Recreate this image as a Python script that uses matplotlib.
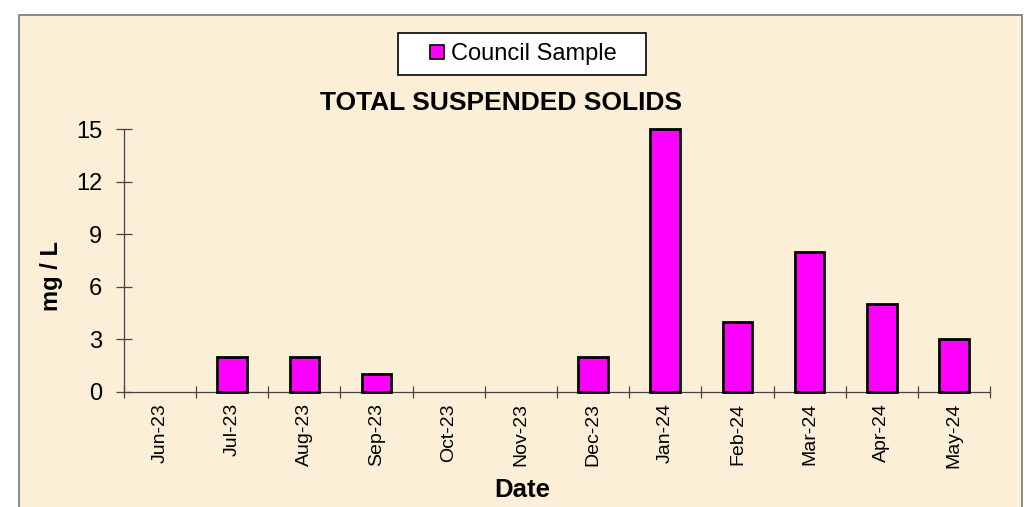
import numpy as np
import matplotlib.pyplot as plt
from matplotlib.patches import Rectangle
from matplotlib.lines import Line2D

months = ['Jun-23', 'Jul-23', 'Aug-23', 'Sep-23', 'Oct-23', 'Nov-23',
          'Dec-23', 'Jan-24', 'Feb-24', 'Mar-24', 'Apr-24', 'May-24']
council = [0, 2, 2, 1, 0, 0, 2, 15, 4, 8, 5, 3]
yticks = [0, 3, 6, 9, 12, 15]

plt.rcParams['font.family'] = ['Liberation Sans', 'DejaVu Sans']

W, H = 1030, 507
fig = plt.figure(figsize=(W / 100, H / 100), dpi=100)
fig.patch.set_facecolor('white')

# chart area (parchment) with border, bottom edge runs off the image
fig.patches.append(Rectangle((19 / W, -0.05), (1022 - 19) / W, 1 - 15 / H + 0.05,
                             transform=fig.transFigure, facecolor='#fbf0d7',
                             edgecolor='#777777', lw=1.2, zorder=-5))

ax = fig.add_axes([124 / W, 1 - 392 / H, (990 - 124) / W, (392 - 129) / H])
ax.set_facecolor('none')
ax.set_zorder(2)

x = np.arange(len(months))
# zero months get no outline, as in the original
edge_w = [2.0 if v > 0 else 0 for v in council]
ax.bar(x, council, width=0.41, color='#ff00ff', edgecolor='black', lw=edge_w,
       label='Council Sample', zorder=3, clip_on=False)

ax.set_xlim(-0.5, len(months) - 0.5)
ax.set_ylim(0, 15)

ax.set_yticks(yticks)
ax.tick_params(axis='y', direction='inout', length=11.5, width=0.9,
               labelsize=17, pad=10, color='#444444')

ax.set_xticks(np.arange(-0.5, len(months)), minor=False)
ax.set_xticklabels([])
ax.tick_params(axis='x', which='major', direction='inout', length=8, width=0.9,
               color='#444444')
ax.set_xticks(x, minor=True)
ax.set_xticklabels(months, minor=True, rotation=90, fontsize=14)
ax.tick_params(axis='x', which='minor', length=0, pad=8)

for s in ['top', 'right']:
    ax.spines[s].set_visible(False)
for s in ['left', 'bottom']:
    ax.spines[s].set_color('#444444')
    ax.spines[s].set_linewidth(0.9)

ax.set_ylabel('mg / L', fontsize=17, fontweight='bold')
ax.yaxis.set_label_coords(-0.07, 0.44)
fig.text(522 / W, 1 - 490 / H, 'Date', fontsize=18.5, fontweight='bold',
         ha='center', va='center')
fig.text(501 / W, 1 - 103 / H, 'TOTAL SUSPENDED SOLIDS', fontsize=19,
         fontweight='bold', ha='center', va='center')

# legend: small square key with wide side margins like the Excel box
key = Line2D([], [], ls='none', marker='s', markersize=10, markerfacecolor='#ff00ff',
             markeredgecolor='black', markeredgewidth=1.2)
leg = ax.legend([key], ['Council Sample   '], loc='center',
                bbox_to_anchor=(522 / W, 1 - 54 / H),
                bbox_transform=fig.transFigure, fontsize=17, frameon=True,
                fancybox=False, edgecolor='black', framealpha=1,
                handlelength=2.5, handletextpad=-0.68,
                borderpad=0.42, borderaxespad=0)
leg.get_frame().set_linewidth(1.2)

fig.savefig('out.png', dpi=100)
